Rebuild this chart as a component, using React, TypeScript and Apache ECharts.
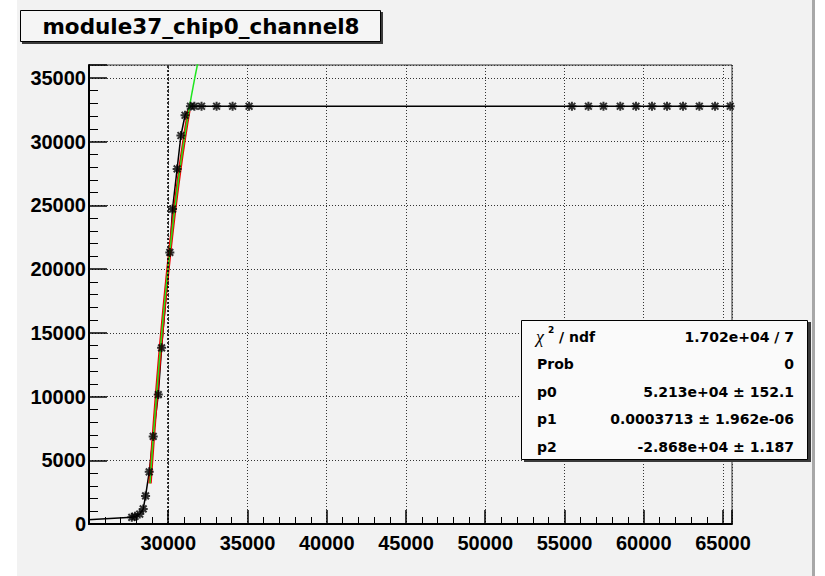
import React, { useEffect, useRef } from "react";
import * as echarts from "echarts";

// Scan of one readout channel: DAC setting vs. measured ADC response
const CHART_TITLE = "module37_chip0_channel8";

const dacValues = [
  20000, 27700, 27900, 28200, 28420, 28570, 28800, 29050, 29370, 29580, 30100,
  30270, 30560, 30800, 31060, 31400, 31650, 32100, 33050, 34060, 35100, 55470,
  56510, 57460, 58520, 59510, 60520, 61470, 62480, 63510, 64500, 65460,
];
const adcValues = [
  0, 520, 600, 780, 1180, 2200, 4090, 6870, 10150, 13820, 21300, 24700, 27850,
  30470, 32060, 32767, 32767, 32767, 32767, 32767, 32767, 32767, 32767, 32767,
  32767, 32767, 32767, 32767, 32767, 32767, 32767, 32767,
];

// Fit result: p0 * (1 - exp(-p1 * (x + p2)))
const FIT_P0 = 52130;
const FIT_P1 = 0.0003713;
const FIT_P2 = -28680;
const FIT_RANGE = [28850, 31300];
const EXTENDED_RANGE = [28850, 32100];

// Statistics box rows
const statLabels = ["Prob", "p0", "p1", "p2"];
const statValues = [
  "1.702e+04 / 7",
  "0",
  "5.213e+04 \u00b1 152.1",
  "0.0003713 \u00b1 1.962e-06",
  "-2.868e+04 \u00b1 1.187",
];

// Axis settings
const X_MIN = 25000;
const X_MAX = 65570;
const Y_MIN = 0;
const Y_MAX = 36000;
const MAJOR_STEP = 5000;
const GUIDE_X = 30000;

function fitPoints(from: number, to: number, step: number): number[][] {
  const pts: number[][] = [];
  for (let x = from; x <= to + 1e-6; x += step) {
    pts.push([x, FIT_P0 * (1 - Math.exp(-FIT_P1 * (x + FIT_P2)))]);
  }
  return pts;
}

const STAR_PATH =
  "path://M0,-10L0,10M-10,0L10,0M-7.5,-7.5L7.5,7.5M-7.5,7.5L7.5,-7.5";

export default function App() {
  const ref = useRef<HTMLDivElement>(null);

  useEffect(() => {
    if (!ref.current) return;
    const chart = echarts.init(ref.current, undefined, { renderer: "svg" });

    const measured = dacValues.map((x, i) => [x, adcValues[i]]);
    const labelFont = "Liberation Sans";
    const boxFont = "DejaVu Sans";

    const statRowY = [337, 364, 392, 419, 447];

    const txt = (x: number, y: number, text: string, extra: any = {}) => ({
      type: "text",
      z: 102,
      style: {
        x, y, text,
        fontFamily: boxFont, fontWeight: "bold", fontSize: 14,
        fill: "#000", align: "left", verticalAlign: "middle",
        textAlign: "left", textVerticalAlign: "middle",
        ...extra,
      },
    });

    const statTexts: any[] = [];
    // chi2 / ndf label with superscript
    statTexts.push(
      txt(536, statRowY[0], "\u03c7", {
        fontFamily: "Liberation Serif", fontStyle: "italic", fontWeight: "normal", fontSize: 18,
      })
    );
    statTexts.push(txt(548, statRowY[0] - 7, "2", { fontSize: 9 }));
    statTexts.push(txt(559, statRowY[0], "/ ndf"));
    statLabels.forEach((lab, i) => statTexts.push(txt(537, statRowY[i + 1], lab)));
    statValues.forEach((val, i) =>
      statTexts.push(txt(794, statRowY[i], val, { align: "right", textAlign: "right" }))
    );

    chart.setOption({
      animation: false,
      backgroundColor: "#ffffff",
      grid: {
        left: 89,
        top: 65,
        width: 643,
        height: 459,
        show: true,
        borderColor: "#333",
        borderWidth: 1,
        backgroundColor: "transparent",
        containLabel: false,
        outerBoundsMode: "none",
      },
      xAxis: {
        type: "value",
        min: X_MIN,
        max: X_MAX,
        interval: MAJOR_STEP,
        axisLine: { show: true, onZero: false, lineStyle: { color: "#000", width: 2 } },
        axisTick: { show: true, inside: true, length: 14, lineStyle: { color: "#000", width: 1.5 } },
        minorTick: { show: true, splitNumber: 5, length: 7, lineStyle: { color: "#000", width: 1 } },
        splitLine: { show: true, lineStyle: { color: "#333", type: [1, 2], width: 1 } },
        axisLabel: {
          color: "#000",
          fontFamily: labelFont,
          fontWeight: "bold",
          fontSize: 20,
          margin: 9,
          formatter: (v: number) =>
            v % MAJOR_STEP === 0 && v > X_MIN ? String(v) : "",
        },
      },
      yAxis: {
        type: "value",
        min: Y_MIN,
        max: Y_MAX,
        interval: MAJOR_STEP,
        axisLine: { show: true, onZero: false, lineStyle: { color: "#000", width: 2 } },
        axisTick: { show: true, inside: true, length: 18, lineStyle: { color: "#000", width: 1.5 } },
        minorTick: { show: true, splitNumber: 5, length: 9, lineStyle: { color: "#000", width: 1 } },
        splitLine: { show: true, lineStyle: { color: "#333", type: [1, 2], width: 1 } },
        axisLabel: {
          color: "#000",
          fontFamily: labelFont,
          fontWeight: "bold",
          fontSize: 20,
          margin: 3,
          formatter: (v: number) =>
            v % MAJOR_STEP === 0 && v <= 35000 ? String(v) : "",
        },
      },
      series: [
        {
          type: "line",
          data: measured,
          showSymbol: false,
          symbol: "none",
          lineStyle: { color: "#000", width: 1.5 },
          z: 2,
          markLine: {
            silent: true,
            symbol: "none",
            label: { show: false },
            lineStyle: { color: "#000", type: [2, 2], width: 1.6 },
            data: [{ xAxis: GUIDE_X }],
          },
        },
        {
          type: "line",
          data: fitPoints(FIT_RANGE[0], FIT_RANGE[1], 25),
          showSymbol: false,
          symbol: "none",
          lineStyle: { color: "#f00000", width: 3.5 },
          z: 3,
        },
        {
          type: "line",
          data: fitPoints(EXTENDED_RANGE[0], EXTENDED_RANGE[1], 20),
          showSymbol: false,
          symbol: "none",
          clip: true,
          lineStyle: { color: "#1ee61e", width: 1.5 },
          z: 4,
        },
        {
          type: "scatter",
          data: measured,
          symbol: STAR_PATH,
          symbolSize: 9,
          clip: true,
          itemStyle: { color: "transparent", borderColor: "#000", borderWidth: 2 },
          z: 5,
        },
      ],
      graphic: [
        {
          type: "rect",
          z: -100,
          shape: { x: 17, y: 0, width: 795, height: 576 },
          style: { fill: "#f2f2f2" },
        },
        {
          type: "rect",
          z: -99,
          shape: { x: 812, y: 0, width: 3, height: 576 },
          style: { fill: "#a8a8a8" },
        },
        // title box with shadow
        {
          type: "rect",
          z: 100,
          shape: { x: 22, y: 12, width: 361, height: 32 },
          style: { fill: "#3a3a3a" },
        },
        {
          type: "rect",
          z: 101,
          shape: { x: 20.5, y: 10.5, width: 360, height: 31 },
          style: { fill: "#f5f5f5", stroke: "#000", lineWidth: 1 },
        },
        {
          type: "text",
          z: 102,
          style: {
            x: 201, y: 26.5, text: CHART_TITLE,
            fontFamily: boxFont, fontWeight: "bold", fontSize: 21.5,
            fill: "#000", align: "center", verticalAlign: "middle",
            textAlign: "center", textVerticalAlign: "middle",
          },
        },
        // statistics box with shadow
        {
          type: "rect",
          z: 100,
          shape: { x: 524, y: 322, width: 287, height: 140 },
          style: { fill: "#3a3a3a" },
        },
        {
          type: "rect",
          z: 101,
          shape: { x: 521.5, y: 320.5, width: 286, height: 139 },
          style: { fill: "#fafafa", stroke: "#000", lineWidth: 1 },
        },
        {
          type: "group",
          z: 102,
          children: statTexts,
        },
      ],
    });

    return () => chart.dispose();
  }, []);

  return (
    <div
      ref={ref}
      style={{ position: "absolute", left: 0, top: 0, width: 825, height: 576 }}
    />
  );
}
